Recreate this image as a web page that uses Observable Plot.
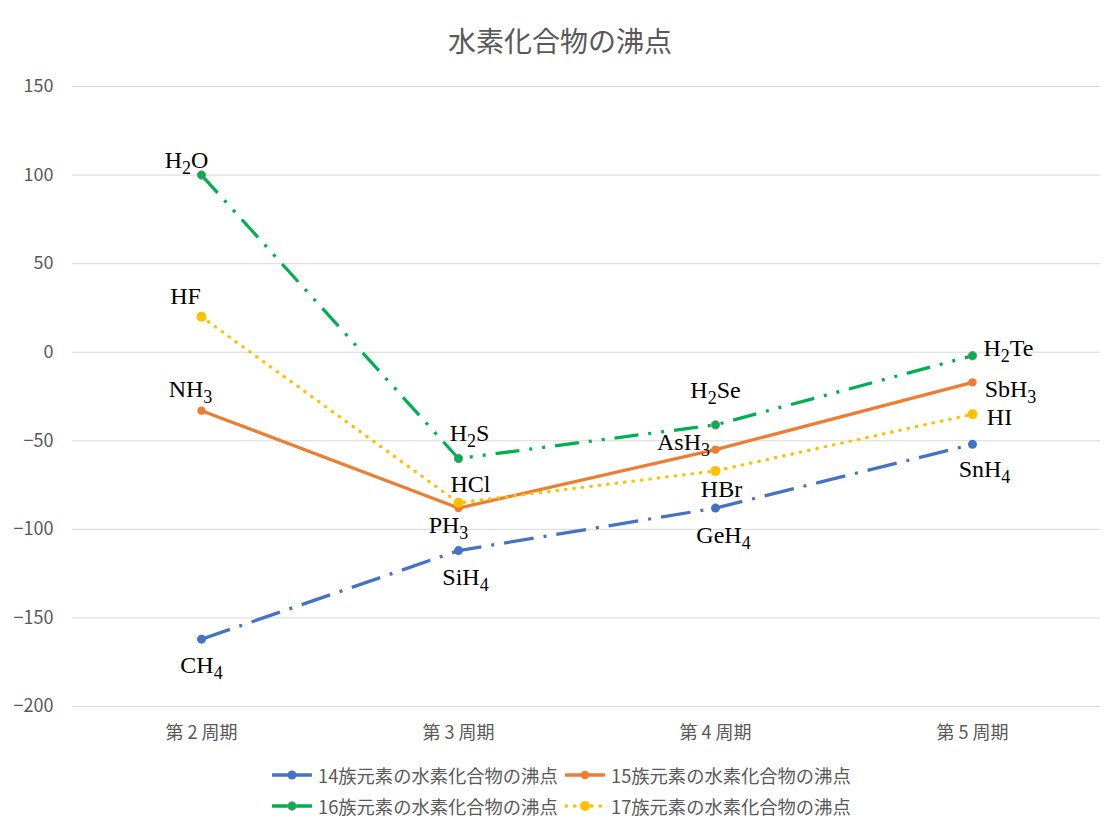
<!DOCTYPE html>
<html>
<head>
<meta charset="utf-8">
<script src="https://cdn.jsdelivr.net/npm/d3@7"></script>
<script src="https://cdn.jsdelivr.net/npm/@observablehq/plot@0.6"></script>
<style>
  html, body { margin: 0; padding: 0; background: #fff; }
  #wrap { position: relative; width: 1105px; height: 822px; overflow: hidden; font-family: "Noto Sans CJK JP", "Noto Sans", sans-serif; }
  #title { position: absolute; left: 0; top: 20px; width: 1120px; text-align: center; font-size: 28px; line-height: 40px; color: #595959; }
  #chart { position: absolute; left: 0; top: 62px; }
  .leg { position: absolute; display: flex; align-items: center; font-size: 18.3px; color: #595959; height: 24px; line-height: 24px; white-space: nowrap; }
  .leg svg { margin-right: 6px; }
</style>
</head>
<body>
<div id="wrap">
  <div id="title">水素化合物の沸点</div>
  <div id="chart"></div>
  <div id="legend"></div>
</div>
<script>
// ---- data ----
const periods = ["第 2 周期", "第 3 周期", "第 4 周期", "第 5 周期"];
const seriesNames = ["14族元素の水素化合物の沸点", "15族元素の水素化合物の沸点", "16族元素の水素化合物の沸点", "17族元素の水素化合物の沸点"];
const compounds14 = ["CH4", "SiH4", "GeH4", "SnH4"];
const values14 = [-162, -112, -88, -52];
const compounds15 = ["NH3", "PH3", "AsH3", "SbH3"];
const values15 = [-33, -88, -55, -17];
const compounds16 = ["H2O", "H2S", "H2Se", "H2Te"];
const values16 = [100, -60, -41, -2];
const compounds17 = ["HF", "HCl", "HBr", "HI"];
const values17 = [20, -85, -67, -35];
const yTicks = [-200, -150, -100, -50, 0, 50, 100, 150];

// ---- styles / layout (not data) ----
const styles = [
  {color: "#4472C4", dash: "30,10,3,10", cap: "butt", r: 4.5, dotStroke: "none"},
  {color: "#ED7D31", dash: null, cap: "round", r: 4.2, dotStroke: "none"},
  {color: "#00B050", dash: "24,10,3,10,3,10", cap: "butt", r: 4.2, dotStroke: "#7f8f85"},
  {color: "#FFC000", dash: "0.5,8", cap: "round", r: 5, dotStroke: "none"}
];
// label offsets (dx, dy) relative to the point
const labelOffsets = {
  CH4: [0, 26], SiH4: [7, 27], GeH4: [8, 27], SnH4: [12, 25],
  NH3: [-11, -21], PH3: [-10, 17], AsH3: [-32, -7], SbH3: [38, 7],
  H2O: [-15, -15], H2S: [11, -25], H2Se: [0, -35], H2Te: [36, -7],
  HF: [-16, -20], HCl: [12, -18], HBr: [6, 18], HI: [27, 3]
};

const groups = [
  [compounds14, values14], [compounds15, values15],
  [compounds16, values16], [compounds17, values17]
];
const rows = [];
groups.forEach(([names, vals], gi) => {
  names.forEach((n, i) => rows.push({series: gi, period: periods[i], name: n, value: vals[i]}));
});

const marks = [
  Plot.gridY(yTicks, {stroke: "#d9d9d9", strokeOpacity: 1, strokeWidth: 1})
];
styles.forEach((s, gi) => {
  const d = rows.filter(r => r.series === gi);
  marks.push(Plot.line(d, {
    x: "period", y: "value", stroke: s.color, strokeWidth: 3.25,
    strokeDasharray: s.dash || undefined, strokeLinecap: s.cap, strokeLinejoin: "round"
  }));
});
styles.forEach((s, gi) => {
  const d = rows.filter(r => r.series === gi);
  marks.push(Plot.dot(d, {
    x: "period", y: "value", r: s.r, fill: s.color,
    stroke: s.dotStroke, strokeWidth: 1
  }));
});
marks.push(Plot.text(rows, {
  x: "period", y: "value", text: "name",
  fontFamily: "Liberation Serif, DejaVu Serif, serif", fontSize: 24, fill: "#000",
  textAnchor: "middle", lineAnchor: "middle"
}));

const plot = Plot.plot({
  width: 1105,
  height: 689,
  marginTop: 24,
  marginBottom: 45,
  marginLeft: 72,
  marginRight: 5,
  style: {fontFamily: "'Noto Sans CJK JP', 'Noto Sans', sans-serif", fontSize: "18px", color: "#595959", background: "#fff"},
  x: {type: "point", domain: periods, padding: 0.5, label: null, tickSize: 0, tickPadding: 20},
  y: {domain: [-200, 150], ticks: yTicks, label: null, tickSize: 0, tickPadding: 19},
  marks
});

// position labels with offsets and subscripts
d3.select(plot).selectAll("text").each(function() {
  const el = d3.select(this);
  const txt = el.text();
  if (!(txt in labelOffsets)) return;
  const off = labelOffsets[txt];
  const tr = el.attr("transform") || "";
  el.attr("transform", tr + ` translate(${off[0]},${off[1]})`);
  el.text("");
  const parts = txt.match(/\d+|\D+/g);
  let sub = false;
  parts.forEach(p => {
    const isDigit = /^\d+$/.test(p);
    const t = el.append("tspan").text(p);
    if (isDigit) { t.attr("font-size", 18).attr("dy", 6); sub = true; }
    else if (sub) { t.attr("dy", -6); sub = false; }
  });
});

document.getElementById("chart").appendChild(plot);

// legend
const legPos = [[272, 763], [565, 763], [272, 794], [565, 794]];
const legend = document.getElementById("legend");
styles.forEach((s, gi) => {
  const div = document.createElement("div");
  div.className = "leg";
  div.style.left = legPos[gi][0] + "px";
  div.style.top = legPos[gi][1] + "px";
  const ns = "http://www.w3.org/2000/svg";
  const svg = document.createElementNS(ns, "svg");
  svg.setAttribute("width", 40); svg.setAttribute("height", 12);
  const line = document.createElementNS(ns, "line");
  line.setAttribute("x1", 1); line.setAttribute("x2", 39);
  line.setAttribute("y1", 6); line.setAttribute("y2", 6);
  line.setAttribute("stroke", s.color); line.setAttribute("stroke-width", 3.5);
  line.setAttribute("stroke-linecap", "round");
  if (gi === 3) line.setAttribute("stroke-dasharray", "0.5,8");
  svg.appendChild(line);
  const c = document.createElementNS(ns, "circle");
  c.setAttribute("cx", 20); c.setAttribute("cy", 6); c.setAttribute("r", s.r);
  c.setAttribute("fill", s.color);
  if (s.dotStroke !== "none") { c.setAttribute("stroke", s.dotStroke); c.setAttribute("stroke-width", 1); }
  svg.appendChild(c);
  div.appendChild(svg);
  const span = document.createElement("span");
  span.textContent = seriesNames[gi];
  div.appendChild(span);
  legend.appendChild(div);
});
</script>
</body>
</html>
